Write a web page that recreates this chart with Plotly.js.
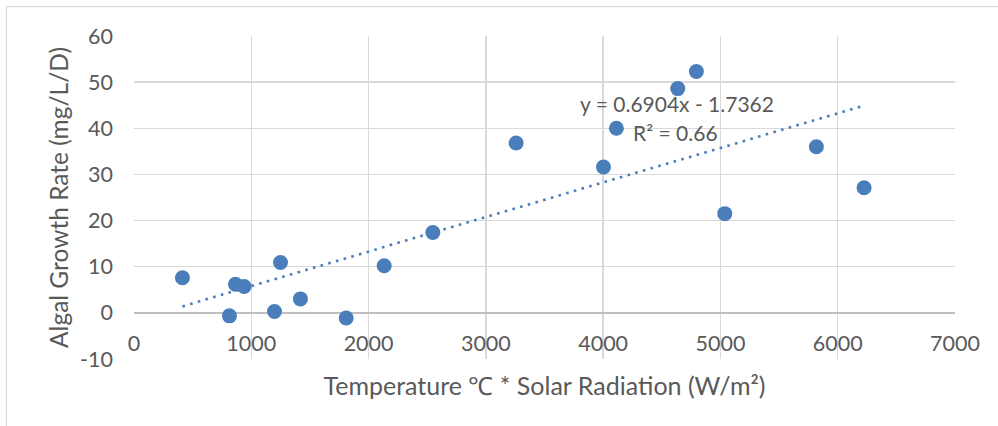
<!DOCTYPE html>
<html>
<head>
<meta charset="utf-8">
<script src="https://cdn.plot.ly/plotly-3.0.1.min.js"></script>
<style>html,body{margin:0;padding:0;background:#fff;}#chart{width:998px;height:426px;}</style>
</head>
<body>
<div id="chart"></div>
<script>
// Data
const xValues = [413, 814, 865, 939, 1198, 1249, 1419, 1809, 2133, 2548, 3258, 4003, 4113, 4636, 4795, 5037, 5818, 6225];
const yValues = [7.6, -0.65, 6.2, 5.7, 0.28, 10.9, 3.03, -1.1, 10.2, 17.4, 36.8, 31.6, 40.0, 48.6, 52.3, 21.5, 36.0, 27.1];
const xTickVals = [0, 1000, 2000, 3000, 4000, 5000, 6000, 7000];
const yTickVals = [-10, 0, 10, 20, 30, 40, 50, 60];
const eqLine1 = "y = 0.6904x - 1.7362";
const eqLine2 = "R² = 0.66";
const xTitle = "Temperature ℃ * Solar Radiation (W/m²)";
const yTitle = "Algal Growth Rate (mg/L/D)";

// Least-squares linear trendline from the data
const n = xValues.length;
const mx = xValues.reduce((a, b) => a + b, 0) / n;
const my = yValues.reduce((a, b) => a + b, 0) / n;
let sxy = 0, sxx = 0;
for (let i = 0; i < n; i++) { sxy += (xValues[i] - mx) * (yValues[i] - my); sxx += (xValues[i] - mx) ** 2; }
const slope = sxy / sxx, intercept = my - slope * mx;
const xmin = Math.min(...xValues), xmax = Math.max(...xValues);
const trendX = [xmin, xmax];
const trendY = trendX.map(x => slope * x + intercept);

const blue = "#4a7ebb";
const grey = "#595959";
const FONT = "Lato, 'Open Sans', sans-serif";

const traces = [
  { x: trendX, y: trendY, type: "scatter", mode: "lines", hoverinfo: "skip",
    line: { color: blue, width: 2.6, dash: "2.6px,5.4px" } },
  { x: xValues, y: yValues, type: "scatter", mode: "markers",
    marker: { color: blue, size: 15, line: { width: 0 } } }
];

const layout = {
  width: 998, height: 426,
  margin: { l: 133.5, r: 43.3, t: 35.5, b: 67.3, pad: 0 },
  paper_bgcolor: "#ffffff", plot_bgcolor: "#ffffff",
  showlegend: false,
  font: { family: FONT, color: grey, size: 21 },
  xaxis: {
    range: [0, 7000], tickvals: xTickVals, ticktext: xTickVals.map(String),
    showgrid: true, gridcolor: "#d9d9d9", gridwidth: 1.3,
    zeroline: false, showline: false, ticks: "",
    ticklabelposition: "inside", ticklabeloverflow: "allow", ticklabelstandoff: 1,
    tickfont: { family: FONT, color: grey, size: 21.5 },
    title: { text: xTitle, font: { family: FONT, color: grey, size: 25 }, standoff: 22 }
  },
  yaxis: {
    range: [-10, 60], tickvals: yTickVals, ticktext: yTickVals.map(String),
    showgrid: true, gridcolor: "#d9d9d9", gridwidth: 1.3,
    zeroline: true, zerolinecolor: "#bfbfbf", zerolinewidth: 1.5,
    showline: false, ticks: "", ticklabelstandoff: 20,
    tickfont: { family: FONT, color: grey, size: 21.5 },
    title: { text: yTitle, font: { family: FONT, color: grey, size: 24.5 }, standoff: 4 }
  },
  annotations: [
    { xref: "paper", yref: "paper", x: 0.661, y: 0.79, text: eqLine1, showarrow: false,
      xanchor: "center", yanchor: "middle", font: { family: FONT, color: grey, size: 21 } },
    { xref: "paper", yref: "paper", x: 0.660, y: 0.70, text: eqLine2, showarrow: false,
      xanchor: "center", yanchor: "middle", font: { family: FONT, color: grey, size: 21 } }
  ],
  shapes: [
    { type: "line", xref: "paper", yref: "paper", x0: -0.1553, x1: 1.2, y0: 1.091, y1: 1.091,
      line: { color: "#d9d9d9", width: 1.2 } },
    { type: "line", xref: "paper", yref: "paper", x0: -0.1553, x1: -0.1553, y0: -0.3, y1: 1.091,
      line: { color: "#d9d9d9", width: 1.2 } }
  ]
};

Plotly.newPlot("chart", traces, layout, { staticPlot: true, displayModeBar: false });
</script>
</body>
</html>
